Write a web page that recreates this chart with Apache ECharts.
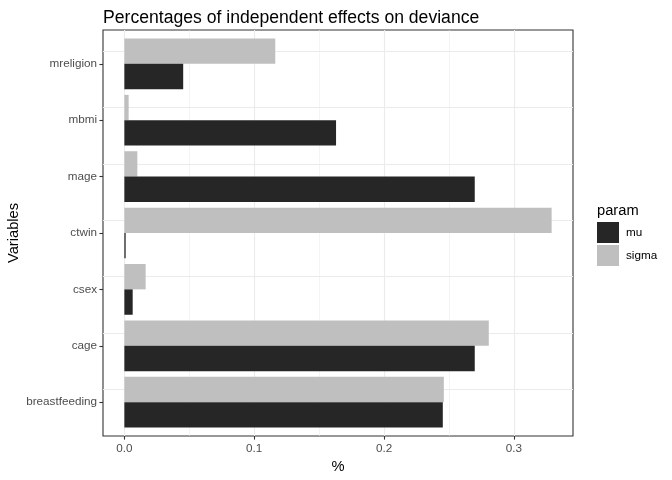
<!DOCTYPE html>
<html>
<head>
<meta charset="utf-8">
<script src="https://cdn.jsdelivr.net/npm/echarts@6/dist/echarts.min.js"></script>
<style>html,body{margin:0;padding:0;background:#fff;}#c{width:672px;height:480px;}</style>
</head>
<body>
<div id="c"></div>
<script>
const categories = ['breastfeeding', 'cage', 'csex', 'ctwin', 'mage', 'mbmi', 'mreligion'];
const muValues = [0.2452, 0.2698, 0.0064, 0.0010, 0.2698, 0.1630, 0.0453];
const sigmaValues = [0.2460, 0.2806, 0.0164, 0.3290, 0.0100, 0.0033, 0.1162];
const majorTicks = [0, 0.1, 0.2, 0.3];
const minorTicks = [0.05, 0.15, 0.25];
const xMin = -0.01645;
const xMax = 0.34545;

const FONT = 'Liberation Sans, Arial, Helvetica, sans-serif';
const chart = echarts.init(document.getElementById('c'), null, {renderer: 'canvas'});

const option = {
  backgroundColor: '#ffffff',
  animation: false,
  textStyle: {fontFamily: FONT},
  title: [
    {text: 'Percentages of independent effects on deviance', left: 98, top: 4,
     textStyle: {fontSize: 17.6, fontWeight: 'normal', color: '#000', fontFamily: FONT}},
    {text: 'param', left: 592, top: 198,
     textStyle: {fontSize: 14.7, fontWeight: 'normal', color: '#000', fontFamily: FONT}}
  ],
  legend: {
    orient: 'vertical', left: 592, top: 217,
    itemWidth: 22, itemHeight: 21, itemGap: 2,
    icon: 'rect',
    data: ['mu', 'sigma'],
    textStyle: {fontSize: 11.7, color: '#000', fontFamily: FONT, padding: [0, 0, 0, 2]}
  },
  grid: [
    {left: 103, right: 99, top: 30, bottom: 44, show: true, borderColor: '#333333', borderWidth: 1.1,
     backgroundColor: 'transparent', containLabel: false, outerBoundsMode: 'none'},
    {left: 103, right: 99, top: 35.64, bottom: 49.64, show: false, containLabel: false, outerBoundsMode: 'none'}
  ],
  xAxis: [
    {type: 'value', gridIndex: 0, min: xMin, max: xMax, position: 'bottom',
     name: '%', nameLocation: 'middle', nameGap: 23, nameMoveOverlap: false,
     nameTextStyle: {fontSize: 14.7, color: '#000', fontFamily: FONT},
     axisLine: {show: false, onZero: false},
     axisTick: {show: true, length: 3.6, customValues: majorTicks, lineStyle: {color: '#333333', width: 1.1}},
     axisLabel: {customValues: majorTicks, color: '#4d4d4d', fontSize: 11.7, margin: 7, fontFamily: FONT,
       formatter: v => v.toFixed(1)},
     splitLine: {show: true, lineStyle: {color: '#ebebeb', width: 1.1}}},
    {type: 'value', gridIndex: 0, min: xMin, max: xMax, position: 'top',
     axisLine: {show: false, onZero: false},
     axisTick: {show: false, customValues: minorTicks},
     axisLabel: {show: false, customValues: minorTicks},
     splitLine: {show: true, lineStyle: {color: '#ebebeb', width: 0.55}}},
    {type: 'value', gridIndex: 1, min: xMin, max: xMax, show: false, splitLine: {show: false},
     axisLine: {onZero: false}}
  ],
  yAxis: [
    {type: 'value', gridIndex: 0, show: false, min: 0, max: 1, splitLine: {show: false}, axisLine: {onZero: false}},
    {type: 'category', gridIndex: 1, data: categories, position: 'left',
     name: 'Variables', nameLocation: 'middle', nameGap: 82, nameRotate: 90, nameMoveOverlap: false,
     nameTextStyle: {fontSize: 14.7, color: '#000', fontFamily: FONT},
     axisLine: {show: false, onZero: false},
     axisTick: {show: true, alignWithLabel: true, length: 3.6, lineStyle: {color: '#333333', width: 1.1}},
     axisLabel: {color: '#4d4d4d', fontSize: 11.7, margin: 6, fontFamily: FONT},
     splitLine: {show: false}}
  ],
  series: [
    {name: 'sigma', type: 'bar', xAxisIndex: 2, yAxisIndex: 1, data: sigmaValues,
     itemStyle: {color: '#bfbfbf'}, barGap: '0%', barCategoryGap: '10%', z: 3,
     markLine: {silent: true, symbol: ['none', 'none'], z: 1, label: {show: false},
       lineStyle: {color: '#ebebeb', width: 1.1, type: 'solid'},
       emphasis: {disabled: true},
       data: categories.map(c => ({yAxis: c}))}},
    {name: 'mu', type: 'bar', xAxisIndex: 2, yAxisIndex: 1, data: muValues,
     itemStyle: {color: '#262626'}, barGap: '0%', barCategoryGap: '10%', z: 3}
  ]
};
chart.setOption(option);
</script>
</body>
</html>
